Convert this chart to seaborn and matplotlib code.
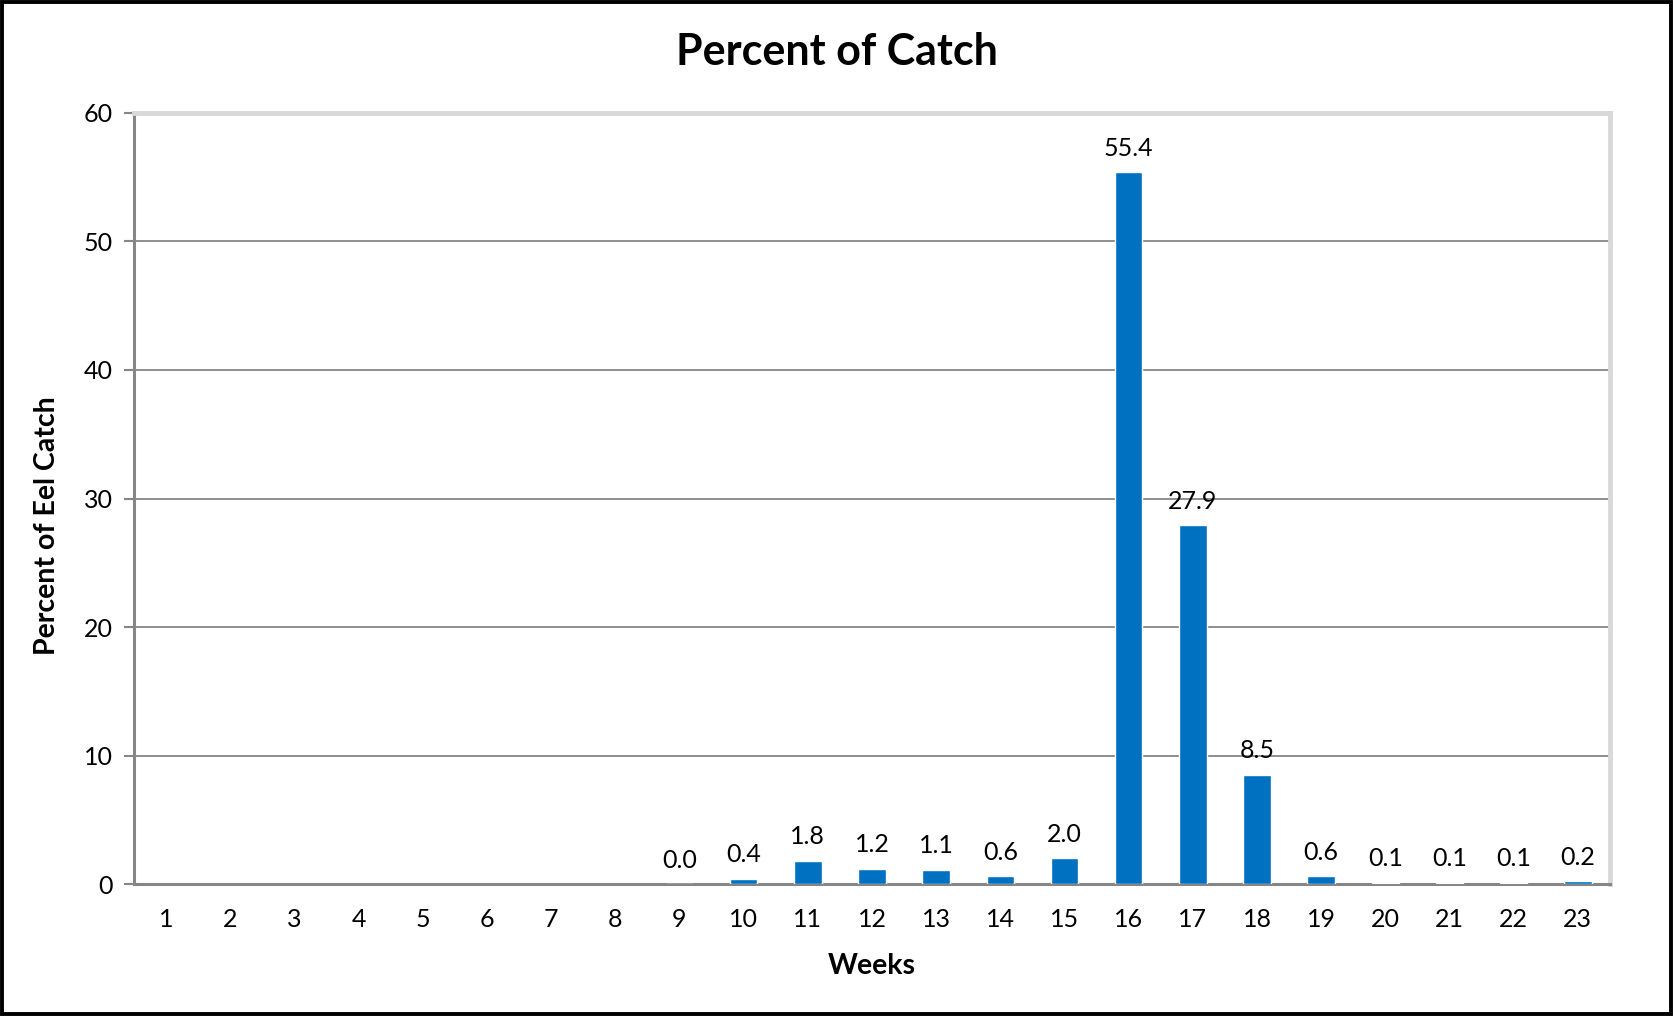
import matplotlib
matplotlib.use("Agg")
import matplotlib.pyplot as plt
from matplotlib.patches import Rectangle
import seaborn as sns
import pandas as pd

# Weekly share of the eel catch (weeks 1-8 had no catch recorded)
weeks = [str(w) for w in range(1, 24)]
percent = [None, None, None, None, None, None, None, None,
           0.0, 0.4, 1.8, 1.2, 1.1, 0.6, 2.0, 55.4, 27.9, 8.5,
           0.6, 0.1, 0.1, 0.1, 0.2]
y_ticks = [0, 10, 20, 30, 40, 50, 60]

df = pd.DataFrame({"week": weeks, "percent": percent})
df_bars = df.dropna()

sns.set_theme(style="white")
plt.rcParams["font.family"] = ["Lato", "DejaVu Sans"]
plt.rcParams["text.color"] = "black"
plt.rcParams["axes.labelcolor"] = "black"
plt.rcParams["xtick.color"] = "black"
plt.rcParams["ytick.color"] = "black"

fig = plt.figure(figsize=(16.73, 10.16), dpi=100)
ax = fig.add_axes([0.0801, 0.1299, 0.8822, 0.7589])

bar_color = "#0070C0"
sns.barplot(data=df_bars, x="week", y="percent", order=weeks,
            color=bar_color, width=0.43, saturation=1, ax=ax, zorder=3)

ax.set_xlim(-0.5, len(weeks) - 0.5)
ax.set_ylim(0, 60)
ax.set_yticks(y_ticks)
ax.set_yticklabels([str(t) for t in y_ticks], fontsize=18)
ax.tick_params(axis="x", labelsize=18, length=0, pad=17, labelcolor="black")
ax.tick_params(axis="y", length=7, width=1.5, color="#868686", pad=8,
               left=True, direction="out", labelcolor="black")

# horizontal gridlines
for t in y_ticks[1:-1]:
    ax.axhline(t, color="#868686", linewidth=1.3, zorder=1)

for side in ["left", "bottom"]:
    ax.spines[side].set_color("#868686")
    ax.spines[side].set_linewidth(2.2)
for side in ["top", "right"]:
    ax.spines[side].set_visible(True)
    ax.spines[side].set_color("#d9d9d9")
    ax.spines[side].set_linewidth(3.5)

# value labels above each bar
for i, w in enumerate(weeks):
    v = df.loc[df["week"] == w, "percent"].iloc[0]
    if pd.notna(v):
        ax.annotate(f"{v:.1f}", xy=(i, v), xytext=(0, 9),
                    textcoords="offset points", ha="center", va="bottom",
                    fontsize=18, color="black")

ax.set_xlabel("Weeks", fontsize=20.5, fontweight="bold", labelpad=16)
ax.set_ylabel("Percent of Eel Catch", fontsize=20.5, fontweight="bold")
ax.yaxis.set_label_coords(-0.050, 0.465)
fig.text(0.5, 0.949, "Percent of Catch", ha="center", va="center",
         fontsize=31, fontweight="bold", color="black")

# outer chart frame
fig.patches.append(Rectangle((0.001, 0.0015), 0.998, 0.997,
                             transform=fig.transFigure, fill=False,
                             edgecolor="black", linewidth=2.8))

fig.savefig("out.png", dpi=100, facecolor="white")
